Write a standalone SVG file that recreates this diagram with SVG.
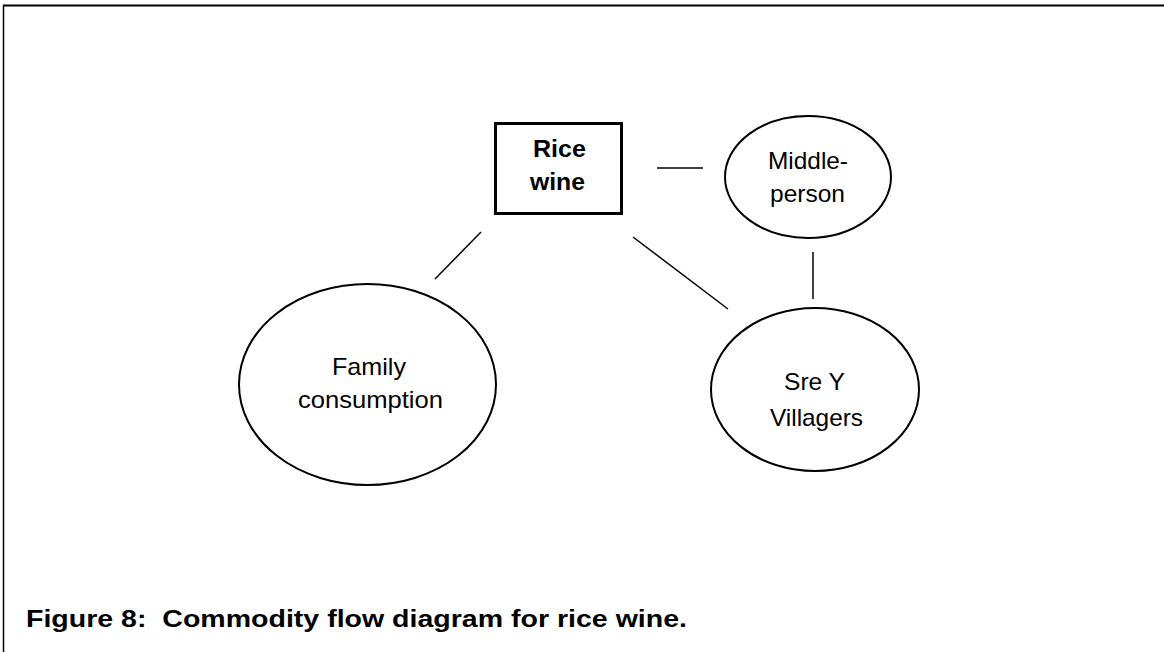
<svg xmlns="http://www.w3.org/2000/svg" width="1164" height="652" viewBox="0 0 1164 652">
  <style>
    .node { fill: #ffffff; stroke: #000000; stroke-width: 2; }
    .box { fill: #ffffff; stroke: #000000; stroke-width: 3; }
    .lbl { font-family: "Liberation Sans", Arial, sans-serif; font-size: 24px; fill: #000000; }
    .bold { font-weight: bold; }
    .cap { font-size: 23px; white-space: pre; }
    .conn { stroke: #000000; stroke-width: 1.5; fill: none; }
  </style>
  <rect x="0" y="0" width="1164" height="652" fill="#ffffff"/>
  <g id="frame">
    <line x1="3" y1="5.5" x2="1164" y2="5.5" stroke="#000" stroke-width="2"/>
    <line x1="3.5" y1="5" x2="3.5" y2="652" stroke="#000" stroke-width="1.5"/>
  </g>
  <g id="connectors">
    <line class="conn" x1="657" y1="168" x2="703" y2="168"/>
    <line class="conn" x1="813" y1="252" x2="813" y2="299"/>
    <line class="conn" x1="633" y1="237" x2="728" y2="309"/>
    <line class="conn" x1="481" y1="232" x2="435" y2="279"/>
  </g>
  <g id="rice-wine">
    <rect class="box" x="495.5" y="123.5" width="126" height="90"/>
    <text class="lbl bold" x="533" y="157" textLength="53" lengthAdjust="spacingAndGlyphs">Rice</text>
    <text class="lbl bold" x="530" y="190" textLength="55" lengthAdjust="spacingAndGlyphs">wine</text>
  </g>
  <g id="middle-person">
    <ellipse class="node" cx="808" cy="177" rx="83" ry="61"/>
    <text class="lbl" x="768" y="169" textLength="80" lengthAdjust="spacingAndGlyphs">Middle-</text>
    <text class="lbl" x="770" y="202" textLength="75" lengthAdjust="spacingAndGlyphs">person</text>
  </g>
  <g id="family-consumption">
    <ellipse class="node" cx="367.5" cy="384.5" rx="128.5" ry="100.5"/>
    <text class="lbl" x="332" y="375" textLength="74" lengthAdjust="spacingAndGlyphs">Family</text>
    <text class="lbl" x="298" y="408" textLength="145" lengthAdjust="spacingAndGlyphs">consumption</text>
  </g>
  <g id="sre-y-villagers">
    <ellipse class="node" cx="815" cy="389.5" rx="104" ry="81.5"/>
    <text class="lbl" x="784" y="390" textLength="61" lengthAdjust="spacingAndGlyphs">Sre Y</text>
    <text class="lbl" x="770" y="426" textLength="93" lengthAdjust="spacingAndGlyphs">Villagers</text>
  </g>
  <g id="caption">
    <text class="lbl bold cap" x="26" y="627" textLength="661" lengthAdjust="spacingAndGlyphs">Figure 8:  Commodity flow diagram for rice wine.</text>
  </g>
</svg>
